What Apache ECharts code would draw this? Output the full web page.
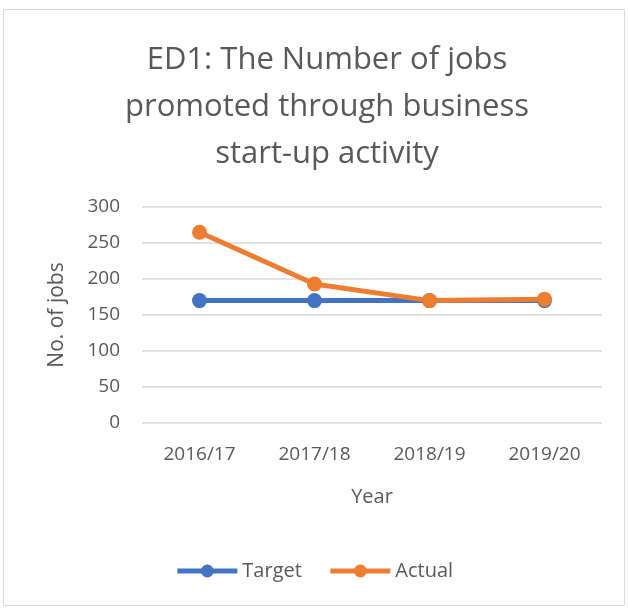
<!DOCTYPE html>
<html><head><meta charset="utf-8">
<script src="https://cdn.jsdelivr.net/npm/echarts@6/dist/echarts.min.js"></script>
<style>html,body{margin:0;padding:0;background:#fff}#c{width:628px;height:608px}</style>
</head><body><div id="c"></div>
<script>
const categories = ['2016/17','2017/18','2018/19','2019/20'];
const target = [170,170,170,170];
const actual = [265,193,170,172];
const yTicks = [0,50,100,150,200,250,300];
const FONT = '"Open Sans", "Noto Sans", sans-serif';
const chart = echarts.init(document.getElementById('c'));
chart.setOption({
  animation:false,
  graphic:[{type:'rect',shape:{x:3.5,y:9.5,width:621,height:596},style:{fill:'none',stroke:'#d9d9d9',lineWidth:1}}],
  title:{text:'ED1: The Number of jobs\npromoted through business\nstart-up activity',left:322,top:32,textAlign:'center',
    textStyle:{fontFamily:FONT,fontSize:31,fontWeight:'normal',color:'#595959',lineHeight:47}},
  legend:{bottom:22,left:'center',itemWidth:60,itemHeight:16,itemGap:26,
    lineStyle:{width:5},
    textStyle:{fontFamily:FONT,fontSize:20,color:'#595959'},data:['Target','Actual']},
  grid:{left:142,right:26,top:207,bottom:185,containLabel:false},
  xAxis:{type:'category',data:categories,boundaryGap:true,name:'Year',nameLocation:'middle',nameGap:64,
    nameTextStyle:{fontFamily:FONT,fontSize:20,color:'#595959'},
    axisLine:{show:false},axisTick:{show:false},
    axisLabel:{fontFamily:FONT,fontSize:19,color:'#595959',margin:22}},
  yAxis:{type:'value',min:yTicks[0],max:yTicks[yTicks.length-1],interval:50,name:'No. of jobs',nameLocation:'middle',nameGap:74,
    nameTextStyle:{fontFamily:FONT,fontSize:21,color:'#595959'},
    axisLine:{show:false},axisTick:{show:false},
    axisLabel:{fontFamily:FONT,fontSize:19,color:'#595959',margin:22},
    splitLine:{lineStyle:{color:'#d9d9d9',width:1.5}}},
  series:[
    {name:'Target',type:'line',data:target,symbol:'circle',symbolSize:15,
      lineStyle:{color:'#4472c4',width:5},itemStyle:{color:'#4472c4'}},
    {name:'Actual',type:'line',data:actual,symbol:'circle',symbolSize:15,
      lineStyle:{color:'#ed7d31',width:5},itemStyle:{color:'#ed7d31'}}
  ]
});
</script></body></html>
